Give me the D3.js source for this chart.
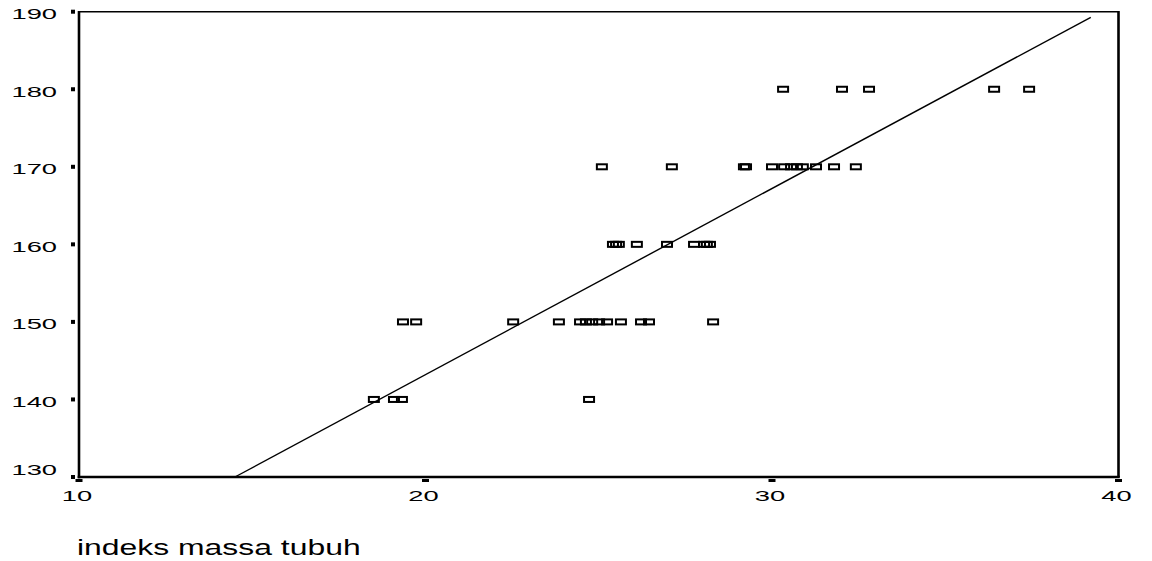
<!DOCTYPE html>
<html>
<head>
<meta charset="utf-8">
<script src="https://cdn.jsdelivr.net/npm/d3@7"></script>
<style>
  html, body { margin: 0; padding: 0; background: #fff; }
  svg { display: block; }
  text { font-family: "Liberation Sans", Arial, sans-serif; fill: #000; }
</style>
</head>
<body>
<svg id="chart" width="1152" height="561"></svg>
<script>
// Body mass index (x) against height (y), one marker per respondent
const bmi180 = [30.32, 32.02, 32.80, 36.41, 37.42];
const bmi170 = [25.09, 27.11, 29.19, 29.25, 30.00, 30.35, 30.55, 30.72, 30.89, 31.27, 31.79, 32.42];
const bmi160 = [25.41, 25.50, 25.58, 26.10, 26.97, 27.75, 28.04, 28.12, 28.21];
const bmi150 = [19.35, 19.73, 22.53, 23.85, 24.46, 24.63, 24.81, 25.01, 25.24, 25.64, 26.22, 26.45, 28.30];
const bmi140 = [18.51, 19.09, 19.32, 24.72];
const heightLevels = [180, 170, 160, 150, 140];

// Fitted linear trend: height = intercept + slope * bmi
const fitIntercept = 95.2;
const fitSlope = 2.40;
const fitEndX = 39.2;

const xTicks = [10, 20, 30, 40];
const yTicks = [130, 140, 150, 160, 170, 180, 190];
const xTitle = "indeks massa tubuh";

const points = [bmi180, bmi170, bmi160, bmi150, bmi140]
  .flatMap((xs, i) => xs.map(x => ({ x, y: heightLevels[i] })));

const svg = d3.select("#chart");
const plotLeft = 79, plotRight = 1118.5, plotTop = 11.7, plotBottom = 477;

const x = d3.scaleLinear().domain([10, 40]).range([plotLeft, plotRight]);
const y = d3.scaleLinear().domain([130, 190]).range([plotBottom, plotTop]);

// frame: heavy left/bottom/right, light top
svg.append("line").attr("x1", plotLeft).attr("x2", plotRight).attr("y1", plotTop).attr("y2", plotTop)
  .attr("stroke", "#000").attr("stroke-width", 1.5);
svg.append("line").attr("x1", plotRight).attr("x2", plotRight).attr("y1", plotTop - 0.7).attr("y2", plotBottom)
  .attr("stroke", "#000").attr("stroke-width", 2.6);
svg.append("line").attr("x1", plotLeft).attr("x2", plotLeft).attr("y1", plotTop - 0.7).attr("y2", plotBottom + 1.3)
  .attr("stroke", "#000").attr("stroke-width", 2.6);
svg.append("line").attr("x1", plotLeft - 1.3).attr("x2", plotRight + 1.3).attr("y1", plotBottom).attr("y2", plotBottom)
  .attr("stroke", "#000").attr("stroke-width", 2.6);

// y ticks: small squares left of the axis
svg.append("g").selectAll("rect").data(yTicks).join("rect")
  .attr("x", 71).attr("y", d => y(d) - 2).attr("width", 4).attr("height", 4)
  .attr("fill", "#000");
svg.append("g").selectAll("text").data(yTicks).join("text")
  .attr("text-anchor", "end")
  .attr("font-size", 14)
  .attr("transform", d => `translate(57,${Math.min(y(d) + 7.5, plotBottom - 2)}) scale(1.95,1)`)
  .text(d => d);

// x ticks: short dashes under the axis
svg.append("g").selectAll("rect").data(xTicks).join("rect")
  .attr("x", d => x(d) - 3.5).attr("y", 479).attr("width", 7).attr("height", 3)
  .attr("fill", "#000");
svg.append("g").selectAll("text").data(xTicks).join("text")
  .attr("text-anchor", "middle")
  .attr("font-size", 14)
  .attr("transform", d => `translate(${x(d) - 2},500.5) scale(1.95,1)`)
  .text(d => d);

// axis title
svg.append("text")
  .attr("font-size", 22)
  .attr("transform", "translate(77,555) scale(1.45,1)")
  .text(xTitle);

// fitted line, starting where it meets the lower edge
const fitStartX = (130 - fitIntercept) / fitSlope;
const line = d3.line().x(d => x(d)).y(d => y(fitIntercept + fitSlope * d));
svg.append("path")
  .attr("d", line([fitStartX, fitEndX]))
  .attr("fill", "none").attr("stroke", "#000").attr("stroke-width", 1.4);

// hollow rectangular markers
svg.append("g").selectAll("rect").data(points).join("rect")
  .attr("x", d => x(d.x) - 5).attr("y", d => y(d.y) - 2.5)
  .attr("width", 10).attr("height", 5)
  .attr("fill", "none").attr("stroke", "#000").attr("stroke-width", 2);
</script>
</body>
</html>
